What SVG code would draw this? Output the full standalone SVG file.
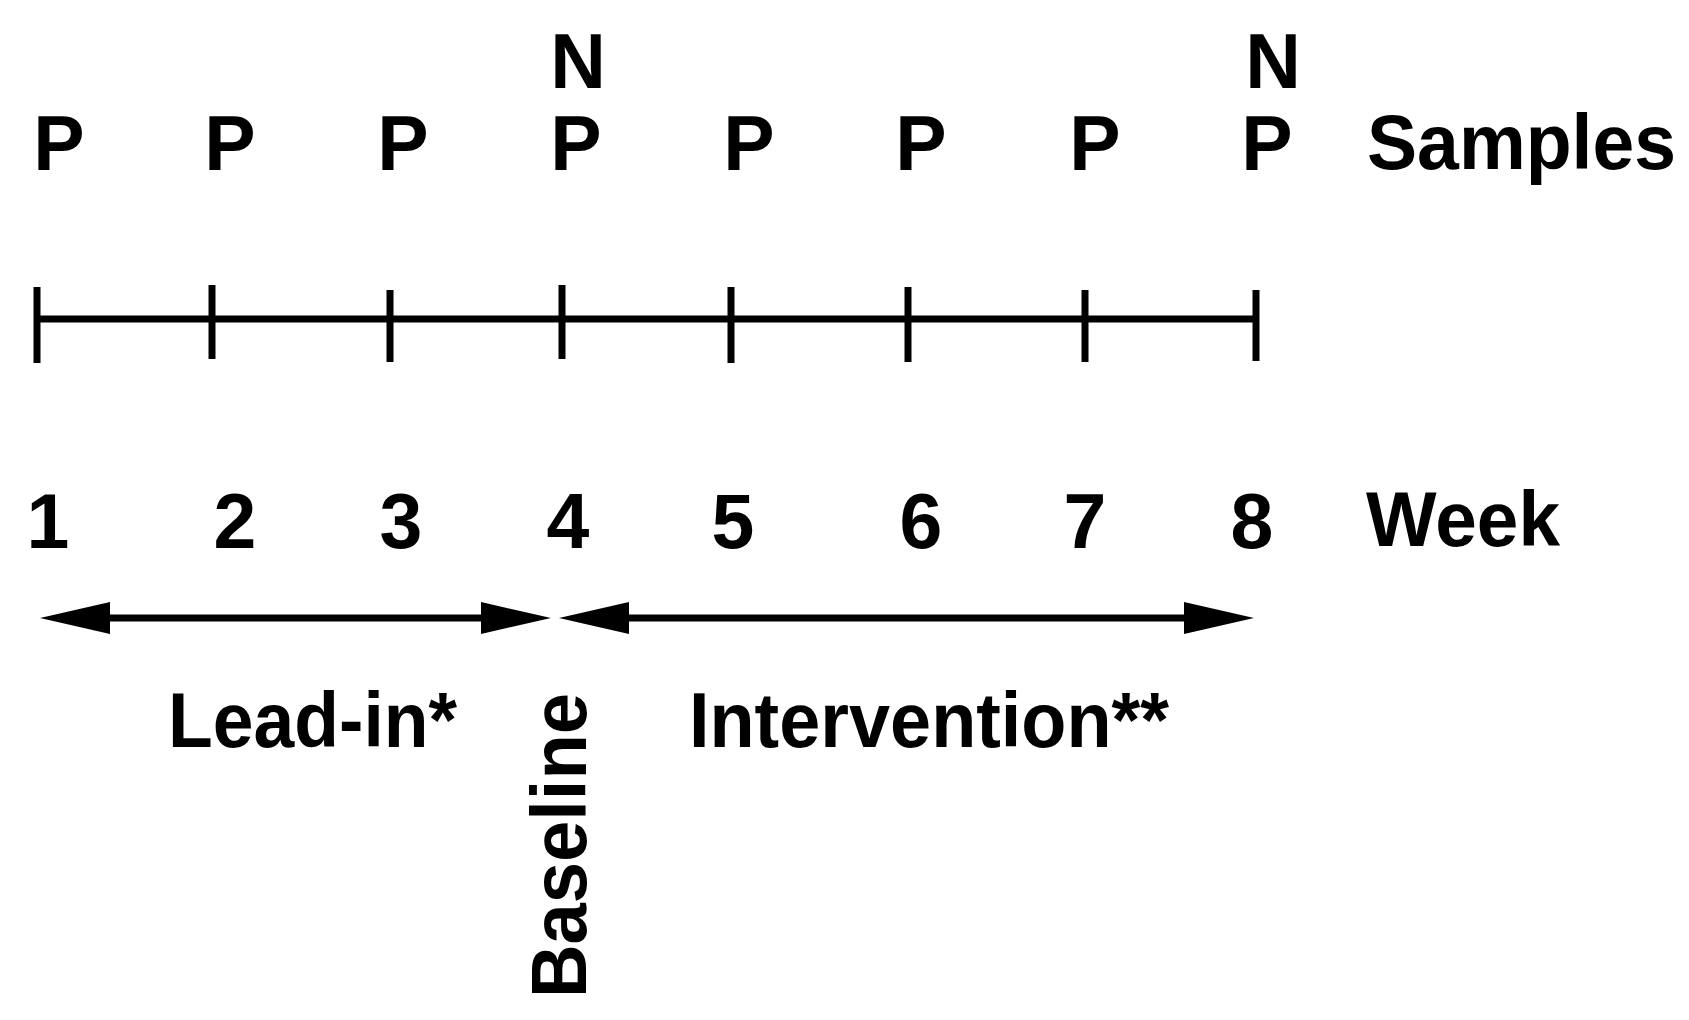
<svg xmlns="http://www.w3.org/2000/svg" width="1689" height="1020" viewBox="0 0 1689 1020">
  <style>
    .t { font-family: "Liberation Sans", Arial, sans-serif; font-weight: bold; font-size: 77px; fill: #000; }
    .c { text-anchor: middle; }
    .ln { stroke: #000; stroke-width: 7; fill: none; stroke-linecap: butt; }
  </style>
  <defs>
    <marker id="head" markerUnits="userSpaceOnUse" markerWidth="72" markerHeight="32" refX="2" refY="16" orient="auto-start-reverse" viewBox="0 0 72 32">
      <path d="M0,0 L70,16 L0,32 Z" fill="#000"/>
    </marker>
  </defs>
  <rect width="1689" height="1020" fill="#fff"/>

  <g id="samples-row">
    <g id="sample-w1"><text class="t c" x="59" y="170">P</text></g>
    <g id="sample-w2"><text class="t c" x="230" y="170">P</text></g>
    <g id="sample-w3"><text class="t c" x="403" y="170">P</text></g>
    <g id="sample-w4"><text class="t c" x="578" y="88">N</text><text class="t c" x="576" y="170">P</text></g>
    <g id="sample-w5"><text class="t c" x="749" y="170">P</text></g>
    <g id="sample-w6"><text class="t c" x="921" y="170">P</text></g>
    <g id="sample-w7"><text class="t c" x="1095" y="170">P</text></g>
    <g id="sample-w8"><text class="t c" x="1273" y="88">N</text><text class="t c" x="1267" y="170">P</text></g>
    <g id="samples-label"><text class="t" x="1367" y="169" textLength="309" lengthAdjust="spacingAndGlyphs">Samples</text></g>
  </g>

  <g id="week-row">
    <g id="week-1"><text class="t c" x="48" y="548">1</text></g>
    <g id="week-2"><text class="t c" x="235" y="548">2</text></g>
    <g id="week-3"><text class="t c" x="401" y="548">3</text></g>
    <g id="week-4"><text class="t c" x="568" y="548">4</text></g>
    <g id="week-5"><text class="t c" x="733" y="548">5</text></g>
    <g id="week-6"><text class="t c" x="921" y="548">6</text></g>
    <g id="week-7"><text class="t c" x="1085" y="548">7</text></g>
    <g id="week-8"><text class="t c" x="1252" y="548">8</text></g>
    <g id="week-label"><text class="t" x="1366" y="546" textLength="194" lengthAdjust="spacingAndGlyphs">Week</text></g>
  </g>

  <g id="phase-labels">
    <g id="lead-in"><text class="t" x="168" y="747" textLength="289" lengthAdjust="spacingAndGlyphs">Lead-in*</text></g>
    <g id="intervention"><text class="t" x="689" y="747" textLength="480" lengthAdjust="spacingAndGlyphs">Intervention**</text></g>
    <g id="baseline"><text class="t" transform="translate(586,998) rotate(-90)" x="0" y="0" textLength="305" lengthAdjust="spacingAndGlyphs">Baseline</text></g>
  </g>

  <g id="connectors">
    <g id="timeline">
      <line class="ln" x1="37" y1="319" x2="1257" y2="319"/>
      <line class="ln" x1="37" y1="287" x2="37" y2="363"/>
      <line class="ln" x1="212" y1="285" x2="212" y2="359"/>
      <line class="ln" x1="390" y1="290" x2="390" y2="362"/>
      <line class="ln" x1="562" y1="285" x2="562" y2="359"/>
      <line class="ln" x1="731" y1="287" x2="731" y2="363"/>
      <line class="ln" x1="908" y1="287" x2="908" y2="362"/>
      <line class="ln" x1="1085" y1="290" x2="1085" y2="362"/>
      <line class="ln" x1="1256" y1="290" x2="1256" y2="361"/>
    </g>
    <line id="arrow-lead-in" class="ln" x1="108" y1="618" x2="483" y2="618" marker-start="url(#head)" marker-end="url(#head)"/>
    <line id="arrow-intervention" class="ln" x1="627" y1="618" x2="1186" y2="618" marker-start="url(#head)" marker-end="url(#head)"/>
  </g>
</svg>
